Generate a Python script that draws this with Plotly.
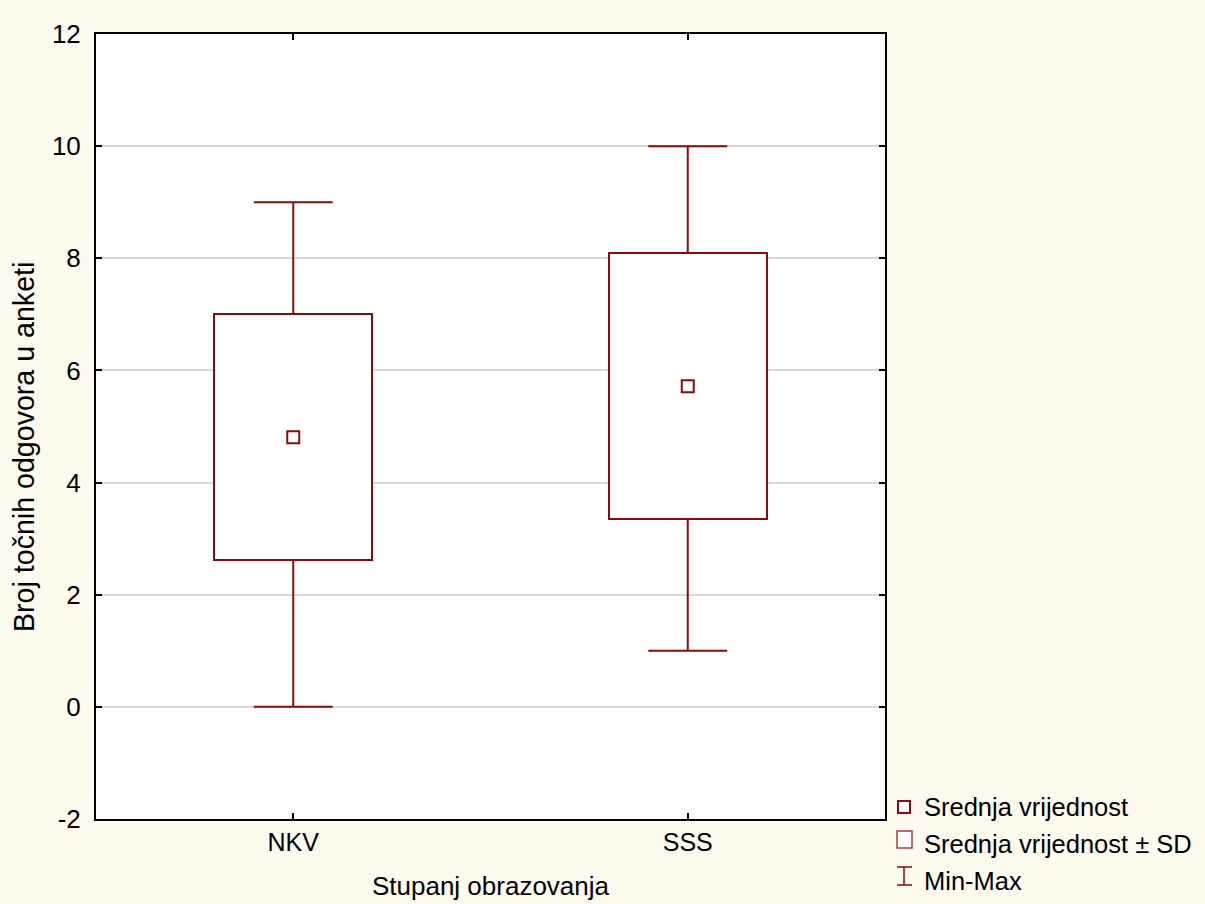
import plotly.graph_objects as go

# ---- data ----
categories = ["NKV", "SSS"]
means = [4.81, 5.72]
sds = [2.19, 2.37]
mins = [0, 1]
maxs = [9, 10]
y_ticks = [-2, 0, 2, 4, 6, 8, 10, 12]
y_tick_labels = ["-2", "0", "2", "4", "6", "8", "10", "12"]
legend_labels = ["Srednja vrijednost", "Srednja vrijednost \u00b1 SD", "Min-Max"]
x_title = "Stupanj obrazovanja"
y_title = "Broj to\u010dnih odgovora u anketi"

RED = "#8B0A0A"
BG = "#FFFAF0"
FONT = "Arial"
BOX_W = 0.4
CAP_HALF = 0.1

xpos = list(range(len(categories)))
lo = [m - s for m, s in zip(means, sds)]
hi = [m + s for m, s in zip(means, sds)]

fig = go.Figure()

# boxes: mean +- SD
fig.add_trace(go.Bar(
    x=xpos, y=[h - l for h, l in zip(hi, lo)], base=lo,
    width=BOX_W,
    marker=dict(color="white", line=dict(color=RED, width=2)),
    showlegend=False, hoverinfo="skip",
))

# whiskers: min -> box bottom, box top -> max, plus caps
wx, wy = [], []
for x, mn, mx, l, h in zip(xpos, mins, maxs, lo, hi):
    wx += [x, x, None, x, x, None,
           x - CAP_HALF, x + CAP_HALF, None, x - CAP_HALF, x + CAP_HALF, None]
    wy += [mn, l, None, h, mx, None, mn, mn, None, mx, mx, None]
fig.add_trace(go.Scatter(
    x=wx, y=wy, mode="lines", line=dict(color=RED, width=2),
    showlegend=False, hoverinfo="skip", connectgaps=False,
))

# mean markers
fig.add_trace(go.Scatter(
    x=xpos, y=means, mode="markers",
    marker=dict(symbol="square-open", size=12, color=RED, line=dict(width=2, color=RED)),
    showlegend=False, hoverinfo="skip",
))

# ---- manual legend (pixel layout -> paper coords) ----
L, R, T, B = 96, 320, 34, 85
W, H = 1205, 904
pw, ph = W - L - R, H - T - B


def px(x):
    return (x - L) / pw


def py(y):
    return (H - B - y) / ph


shapes = []
shapes.append(dict(type="rect", xref="paper", yref="paper",
                   x0=px(898), x1=px(910), y0=py(813), y1=py(801),
                   line=dict(color=RED, width=2), fillcolor="white", layer="above"))
shapes.append(dict(type="rect", xref="paper", yref="paper",
                   x0=px(897), x1=px(912), y0=py(848), y1=py(831),
                   line=dict(color="#A84040", width=1.5), fillcolor="white", layer="above"))
shapes.append(dict(type="line", xref="paper", yref="paper",
                   x0=px(904), x1=px(904), y0=py(885), y1=py(867),
                   line=dict(color=RED, width=1.5), layer="above"))
shapes.append(dict(type="line", xref="paper", yref="paper",
                   x0=px(897), x1=px(912), y0=py(867), y1=py(867),
                   line=dict(color=RED, width=1.5), layer="above"))
shapes.append(dict(type="line", xref="paper", yref="paper",
                   x0=px(897), x1=px(912), y0=py(885), y1=py(885),
                   line=dict(color=RED, width=1.5), layer="above"))

annotations = []
for lbl, yy in zip(legend_labels, [807, 844, 881]):
    annotations.append(dict(xref="paper", yref="paper", x=px(922), y=py(yy),
                            text=lbl, showarrow=False, xanchor="left", yanchor="middle",
                            font=dict(family=FONT, size=25.5, color="black")))

# y axis title (placed to match the original's offset)
annotations.append(dict(xref="paper", yref="paper", x=px(24), y=py(447),
                        text=y_title, showarrow=False, textangle=-90,
                        xanchor="center", yanchor="middle",
                        font=dict(family=FONT, size=28.6, color="black")))

fig.update_layout(
    width=W, height=H, autosize=False,
    margin=dict(l=L, r=R, t=T, b=B),
    paper_bgcolor=BG, plot_bgcolor="white",
    font=dict(family=FONT, size=26, color="black"),
    shapes=shapes, annotations=annotations,
    showlegend=False, bargap=0,
)

fig.update_xaxes(
    range=[-0.5, len(categories) - 0.5],
    tickmode="array", tickvals=xpos, ticktext=categories,
    ticks="inside", ticklen=6, tickwidth=2, tickcolor="black",
    showline=True, linecolor="black", linewidth=2, mirror="ticks",
    showgrid=False, zeroline=False, automargin=False,
    title=dict(text=x_title, font=dict(size=26), standoff=22),
    tickfont=dict(size=25),
)
fig.update_yaxes(
    range=[-2, 12],
    tickmode="array", tickvals=y_ticks, ticktext=y_tick_labels,
    ticks="inside", ticklen=6, tickwidth=2, tickcolor="black",
    showline=True, linecolor="black", linewidth=2, mirror="ticks",
    showgrid=True, gridcolor="#D9D9D9", gridwidth=2, zeroline=False,
    ticklabelstandoff=8, automargin=False,
    tickfont=dict(size=26),
)

fig.write_html(
    "out.html",
    config={"displayModeBar": False},
    post_script="document.body.style.margin='0';document.body.style.background='#FFFAF0';",
)
